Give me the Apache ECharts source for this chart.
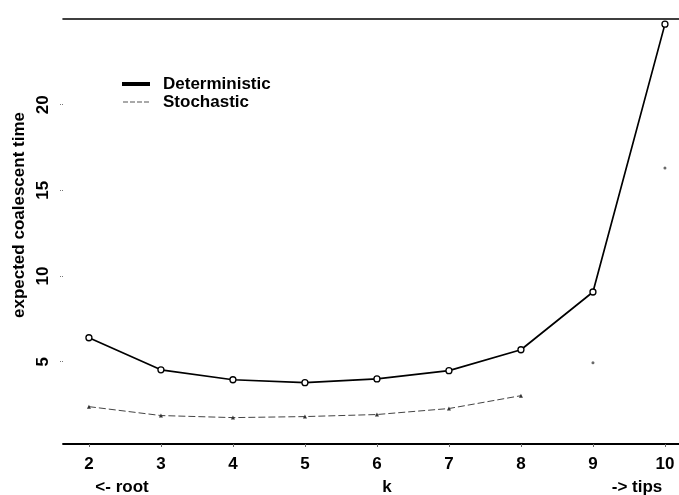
<!DOCTYPE html>
<html><head><meta charset="utf-8">
<script src="https://cdn.jsdelivr.net/npm/echarts@6/dist/echarts.min.js"></script>
<style>html,body{margin:0;padding:0;background:#fff}#c{width:679px;height:495px}</style>
</head><body><div id="c"></div>
<script>
var kValues = [2, 3, 4, 5, 6, 7, 8, 9, 10];
var deterministic = [6.4, 4.53, 3.95, 3.78, 4.0, 4.48, 5.7, 9.07, 24.7];
var stochastic = [2.38, 1.86, 1.74, 1.8, 1.92, 2.27, 3.02, 4.94, 16.3];
var yTicks = [5, 10, 15, 20];
var xTicks = [2, 3, 4, 5, 6, 7, 8, 9, 10];
var stochLineCount = 7; // visible dashed part of the stochastic curve

var detData = kValues.map(function (k, i) { return [k, deterministic[i]]; });
var stoData = kValues.map(function (k, i) { return [k, stochastic[i]]; });

var font = 'Liberation Sans, Arial, sans-serif';
var chart = echarts.init(document.getElementById('c'));
chart.setOption({
  animation: false,
  backgroundColor: '#fff',
  grid: { left: 63, right: 0, top: 19, bottom: 51 },
  legend: {
    orient: 'vertical', left: 117, top: 70, itemWidth: 26, itemHeight: 2, itemGap: 0,
    textStyle: { fontFamily: font, fontSize: 17, fontWeight: 'bold', lineHeight: 18, color: '#000', padding: [0, 0, 0, 9] },
    data: [
      { name: 'Deterministic', icon: 'rect', itemStyle: { color: '#000' } },
      { name: 'Stochastic', icon: 'path://M0,0h5v1h-5z M7,0h5v1h-5z M14,0h5v1h-5z M21,0h5v1h-5z', itemStyle: { color: '#555' } }
    ]
  },
  xAxis: [{
    type: 'value', min: 1.64, max: 10.195,
    axisLine: { show: true, lineStyle: { color: '#000', width: 1.8 } },
    axisTick: { show: true, customValues: xTicks, length: 3, lineStyle: { color: '#666' } },
    axisLabel: { customValues: xTicks, margin: 12, fontFamily: font, fontSize: 17, fontWeight: 'bold', color: '#000' },
    splitLine: { show: false }
  }, {
    type: 'value', min: 1.64, max: 10.195, position: 'top',
    axisLine: { show: true, lineStyle: { color: '#000', width: 1.6 } },
    axisTick: { show: false }, axisLabel: { show: false }, splitLine: { show: false }
  }],
  yAxis: {
    type: 'value', min: 0.2, max: 25,
    axisLine: { show: false },
    axisTick: { show: true, customValues: yTicks, length: 3, lineStyle: { color: '#777', type: 'dotted' } },
    axisLabel: { customValues: yTicks, rotate: 90, margin: 11, fontFamily: font, fontSize: 17, fontWeight: 'bold', color: '#000', align: 'center', verticalAlign: 'bottom' },
    splitLine: { show: false }
  },
  graphic: [
    { type: 'text', x: 19, y: 215, rotation: Math.PI / 2,
      style: { text: 'expected coalescent time', font: 'bold 17px ' + font, fill: '#000', align: 'center', verticalAlign: 'middle' } },
    { type: 'text', x: 122, y: 487, style: { text: '<- root', font: 'bold 17px ' + font, fill: '#000', align: 'center', verticalAlign: 'middle' } },
    { type: 'text', x: 387, y: 487, style: { text: 'k', font: 'bold 17px ' + font, fill: '#000', align: 'center', verticalAlign: 'middle' } },
    { type: 'text', x: 637, y: 487, style: { text: '-> tips', font: 'bold 17px ' + font, fill: '#000', align: 'center', verticalAlign: 'middle' } }
  ],
  series: [
    {
      name: 'Deterministic', type: 'line', data: detData,
      symbol: 'circle', symbolSize: 6,
      itemStyle: { color: '#fff', borderColor: '#000', borderWidth: 1.3 },
      lineStyle: { color: '#000', width: 1.7 }
    },
    {
      name: 'Stochastic', type: 'line', data: stoData.slice(0, stochLineCount),
      symbol: 'triangle', symbolSize: 4,
      itemStyle: { color: '#333' },
      lineStyle: { color: '#444', width: 1, type: [7, 3] }
    },
    {
      name: 'stoch-points', type: 'scatter', data: stoData.slice(stochLineCount),
      symbol: 'circle', symbolSize: 3, itemStyle: { color: '#444' }
    }
  ]
});
</script></body></html>
